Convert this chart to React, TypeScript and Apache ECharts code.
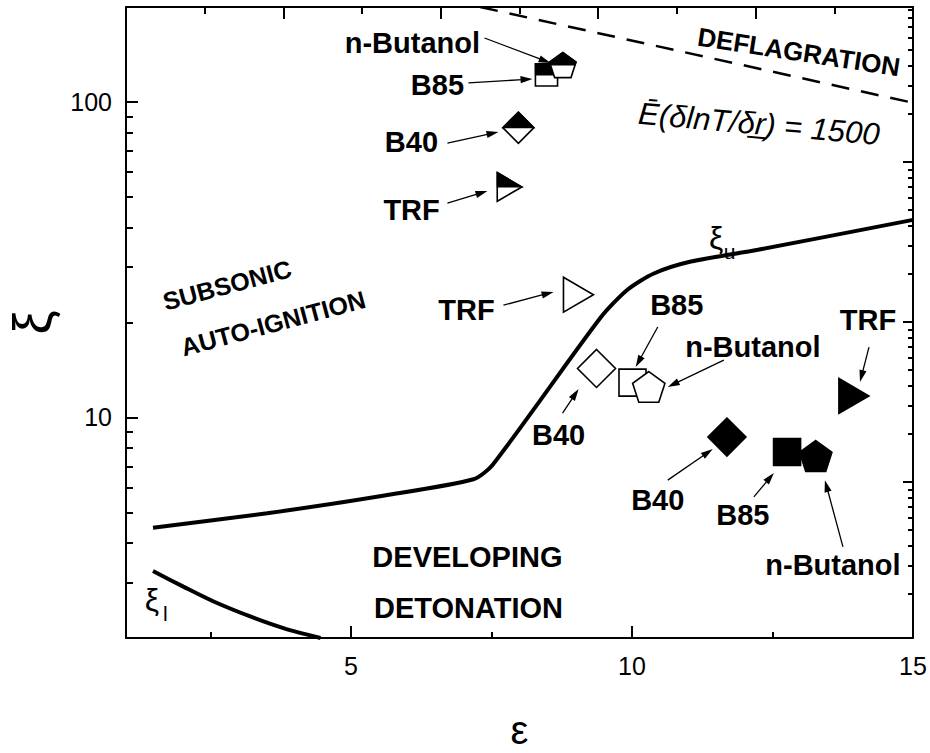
import React, { useEffect, useRef } from 'react';
import * as echarts from 'echarts';

// ---------------------------------------------------------------------------
// Data
// ---------------------------------------------------------------------------

// Fuels, in drawing order (square before pentagon so the pentagon sits on top)
const fuels = ['TRF', 'B40', 'B85', 'n-Butanol'];
const fuelShapes = ['triangle', 'diamond', 'square', 'pentagon'];

// Half-filled markers
const halfEps = [7.75, 7.98, 8.48, 8.77];
const halfXi = [53.8, 82.9, 121.8, 131];

// Open markers
const openEps = [8.96, 9.37, 10.01, 10.3];
const openXi = [24.5, 14.3, 12.9, 12.5];

// Filled markers
const filledEps = [13.86, 11.69, 12.76, 13.27];
const filledXi = [11.7, 8.67, 7.77, 7.55];

// Upper boundary xi_u
const xiUpperEps = [1.48, 3.51, 5.6, 7.18, 7.52, 9.44, 9.92, 10.39, 11.05, 12.24, 15.0];
const xiUpperVal = [4.47, 4.97, 5.66, 6.37, 7.07, 20.7, 25.4, 28.6, 31.2, 34.0, 42.3];

// Lower boundary xi_l
const xiLowerEps = [1.48, 2.02, 2.56, 3.21, 3.8, 4.46];
const xiLowerVal = [3.26, 2.91, 2.61, 2.34, 2.15, 2.0];

// Deflagration limit, E(dlnT/dr) = 1500
const deflagEps = [7.3, 15];
const deflagXi = [200, 99.4];

// Axis ticks
const epsMajorTicks = [5, 10, 15];
const epsMinorTicks = [2.5, 7.5, 12.5];
const xiMajorTicks = [10, 100];
const xiMinorTicks = [3, 4, 5, 6, 7, 8, 9, 20, 30, 40, 50, 60, 70, 80, 90];
const frameRightMajor = [10, 100, 1000];
const frameRightMinor = [
  2, 3, 4, 5, 6, 7, 8, 9,
  20, 30, 40, 50, 60, 70, 80, 90,
  200, 300, 400, 500, 600, 700, 800, 900,
  2000, 3000, 4000, 5000, 6000, 7000, 8000, 9000,
];

// ---------------------------------------------------------------------------
// Annotations (in data coordinates)
// ---------------------------------------------------------------------------

type Note = {
  text: string;
  at: [number, number];
  size: number;
  rotate?: number;
  bold?: boolean;
  italic?: boolean;
  sub?: string;
};

const notes: Note[] = [
  { text: 'n-Butanol', at: [6.094, 153.8], size: 29, bold: true },
  { text: 'B85', at: [6.54, 113.2], size: 29, bold: true },
  { text: 'B40', at: [6.077, 74.7], size: 29, bold: true },
  { text: 'TRF', at: [6.08, 45.5], size: 29, bold: true },
  { text: 'TRF', at: [7.056, 21.9], size: 29, bold: true },
  { text: 'B40', at: [8.695, 8.8], size: 29, bold: true },
  { text: 'B85', at: [10.797, 22.7], size: 29, bold: true },
  { text: 'n-Butanol', at: [12.151, 16.7], size: 29, bold: true },
  { text: 'B40', at: [10.459, 5.48], size: 29, bold: true },
  { text: 'B85', at: [11.973, 4.91], size: 29, bold: true },
  { text: 'n-Butanol', at: [13.576, 3.41], size: 29, bold: true },
  { text: 'TRF', at: [14.199, 20.4], size: 29, bold: true },
  { text: 'SUBSONIC', at: [2.799, 26.3], size: 25, bold: true, rotate: 15 },
  { text: 'AUTO-IGNITION', at: [3.618, 19.9], size: 25, bold: true, rotate: 15 },
  { text: 'DEVELOPING', at: [7.074, 3.61], size: 29, bold: true },
  { text: 'DETONATION', at: [7.092, 2.49], size: 29, bold: true },
  { text: 'DEFLAGRATION', at: [12.97, 144], size: 26, bold: true, rotate: -8.7 },
  { text: 'Ē(δlnT/δr\u0332) = 1500', at: [12.26, 85.2], size: 31, italic: true, rotate: -5 },
  { text: 'ξ', sub: 'u', at: [11.5, 37.0], size: 32 },
  { text: 'ξ', sub: 'l', at: [1.463, 2.64], size: 32 },
];

type Pointer = { from: [number, number]; to: [number, number] };

const pointers: Pointer[] = [
  { from: [7.377, 159.5], to: [8.553, 132.9] },
  { from: [7.092, 114.9], to: [8.232, 118.3] },
  { from: [6.718, 74.1], to: [7.626, 80.3] },
  { from: [6.718, 47.8], to: [7.43, 52.2] },
  { from: [7.715, 22.7], to: [8.606, 25.0] },
  { from: [8.766, 10.33], to: [9.051, 12.31] },
  { from: [10.459, 19.35], to: [10.067, 14.45] },
  { from: [11.634, 15.2], to: [10.637, 12.49] },
  { from: [10.637, 6.33], to: [11.438, 7.94] },
  { from: [12.169, 5.6], to: [12.525, 6.67] },
  { from: [13.754, 3.89], to: [13.433, 6.33] },
  { from: [14.217, 16.7], to: [14.057, 12.95] },
];

// ---------------------------------------------------------------------------
// Styling helpers
// ---------------------------------------------------------------------------

const SANS = "'Liberation Sans', Arial, Helvetica, sans-serif";
const INK = '#000';
const frameLine = { color: INK, width: 2 };

function outline(shape: string, s: number): number[][] {
  switch (shape) {
    case 'triangle': {
      const a = 10 * s, b = 20 * s, h = 17.5 * s;
      return [[-a, -h], [b, 0], [-a, h]];
    }
    case 'diamond': {
      const d = 19 * s;
      return [[0, -d], [d, 0], [0, d], [-d, 0]];
    }
    case 'square': {
      const q = 13.5 * s;
      return [[-q, -q], [q, -q], [q, q], [-q, q]];
    }
    default: {
      const r = 17 * s;
      const off = 0.0955 * r;
      const pts: number[][] = [];
      for (let k = 0; k < 5; k++) {
        const t = ((-90 + 72 * k) * Math.PI) / 180;
        pts.push([r * Math.cos(t), r * Math.sin(t) + off]);
      }
      return pts;
    }
  }
}

// Upper half (y <= 0) of a convex polygon centred on the origin
function upperHalf(points: number[][]): number[][] {
  const out: number[][] = [];
  for (let i = 0; i < points.length; i++) {
    const a = points[i];
    const b = points[(i + 1) % points.length];
    const ina = a[1] <= 0;
    const inb = b[1] <= 0;
    if (ina) out.push(a);
    if (ina !== inb) {
      const t = a[1] / (a[1] - b[1]);
      out.push([a[0] + t * (b[0] - a[0]), 0]);
    }
  }
  return out;
}

function buildOption() {
  const markerData = [
    ...halfEps.map((e, i) => [e, halfXi[i], i, 0]),
    ...openEps.map((e, i) => [e, openXi[i], i, 1]),
    ...filledEps.map((e, i) => [e, filledXi[i], i, 2]),
  ];

  const hiddenAxisParts = {
    axisLabel: { show: false },
    splitLine: { show: false },
    minorSplitLine: { show: false },
  };

  return {
    animation: false,
    backgroundColor: '#fff',
    grid: {
      left: 126,
      top: 7,
      width: 787,
      height: 631,
      containLabel: false,
      outerBoundsMode: 'none',
    },
    xAxis: [
      {
        type: 'value',
        position: 'bottom',
        min: 1,
        max: 15,
        name: 'ε',
        nameLocation: 'middle',
        nameGap: 72,
        nameTextStyle: { fontFamily: SANS, fontSize: 40, color: INK, lineHeight: 40 },
        axisLine: { show: true, onZero: false, lineStyle: frameLine },
        axisTick: { show: true, inside: true, length: 12, lineStyle: frameLine, customValues: epsMajorTicks },
        axisLabel: { show: true, customValues: epsMajorTicks, margin: 15, fontFamily: SANS, fontSize: 25, color: INK },
        splitLine: { show: false },
      },
      {
        type: 'value',
        position: 'bottom',
        min: 1,
        max: 15,
        axisLine: { show: false, onZero: false },
        axisTick: { show: true, inside: true, length: 6, lineStyle: frameLine, customValues: epsMinorTicks },
        ...hiddenAxisParts,
      },
      {
        type: 'value',
        position: 'top',
        min: 0,
        max: 5,
        interval: 1,
        axisLine: { show: true, onZero: false, lineStyle: frameLine },
        axisTick: { show: true, inside: true, length: 12, lineStyle: frameLine },
        minorTick: { show: true, splitNumber: 2, length: 7, lineStyle: frameLine },
        ...hiddenAxisParts,
      },
    ],
    yAxis: [
      {
        type: 'log',
        position: 'left',
        min: 2,
        max: 200,
        logBase: 10,
        name: 'ξ',
        nameLocation: 'middle',
        nameRotate: 90,
        nameGap: 64,
        nameTextStyle: { fontFamily: SANS, fontSize: 54, color: INK },
        axisLine: { show: true, onZero: false, lineStyle: frameLine },
        axisTick: { show: true, inside: true, length: 12, lineStyle: frameLine, customValues: xiMajorTicks },
        axisLabel: { show: true, customValues: xiMajorTicks, margin: 14, fontFamily: SANS, fontSize: 25, color: INK },
        splitLine: { show: false },
        minorSplitLine: { show: false },
      },
      {
        type: 'log',
        position: 'left',
        min: 2,
        max: 200,
        logBase: 10,
        axisLine: { show: false, onZero: false },
        axisTick: { show: true, inside: true, length: 7, lineStyle: frameLine, customValues: xiMinorTicks },
        ...hiddenAxisParts,
      },
      {
        type: 'log',
        position: 'right',
        min: 1.06,
        max: 9310,
        logBase: 10,
        axisLine: { show: true, onZero: false, lineStyle: frameLine },
        axisTick: { show: true, inside: true, length: 10, lineStyle: frameLine, customValues: frameRightMajor },
        ...hiddenAxisParts,
      },
      {
        type: 'log',
        position: 'right',
        min: 1.06,
        max: 9310,
        logBase: 10,
        axisLine: { show: false, onZero: false },
        axisTick: { show: true, inside: true, length: 5, lineStyle: frameLine, customValues: frameRightMinor },
        ...hiddenAxisParts,
      },
    ],
    series: [
      {
        type: 'line',
        name: 'ξu',
        xAxisIndex: 0,
        yAxisIndex: 0,
        data: xiUpperEps.map((e, i) => [e, xiUpperVal[i]]),
        showSymbol: false,
        symbol: 'none',
        smooth: 0.25,
        lineStyle: { color: INK, width: 4 },
        silent: true,
      },
      {
        type: 'line',
        name: 'ξl',
        xAxisIndex: 0,
        yAxisIndex: 0,
        data: xiLowerEps.map((e, i) => [e, xiLowerVal[i]]),
        showSymbol: false,
        symbol: 'none',
        smooth: 0.3,
        lineStyle: { color: INK, width: 4 },
        silent: true,
      },
      {
        type: 'line',
        name: 'deflagration',
        xAxisIndex: 0,
        yAxisIndex: 0,
        data: deflagEps.map((e, i) => [e, deflagXi[i]]),
        showSymbol: false,
        symbol: 'none',
        lineStyle: { color: INK, width: 2.5, type: [18, 12] },
        silent: true,
      },
      {
        type: 'custom',
        name: 'pointers',
        xAxisIndex: 0,
        yAxisIndex: 0,
        silent: true,
        data: pointers.map((p) => [p.from[0], p.from[1], p.to[0], p.to[1]]),
        encode: { x: [0, 2], y: [1, 3] },
        renderItem: (_params: any, api: any) => {
          const p1 = api.coord([api.value(0), api.value(1)]);
          const p2 = api.coord([api.value(2), api.value(3)]);
          const dx = p2[0] - p1[0];
          const dy = p2[1] - p1[1];
          const len = Math.hypot(dx, dy) || 1;
          const ux = dx / len;
          const uy = dy / len;
          const headLen = 12;
          const headHalf = 3.6;
          const bx = p2[0] - ux * headLen;
          const by = p2[1] - uy * headLen;
          return {
            type: 'group',
            children: [
              {
                type: 'line',
                shape: { x1: p1[0], y1: p1[1], x2: bx + ux * 2, y2: by + uy * 2 },
                style: { stroke: INK, lineWidth: 1.3 },
              },
              {
                type: 'polygon',
                shape: {
                  points: [
                    [p2[0], p2[1]],
                    [bx - uy * headHalf, by + ux * headHalf],
                    [bx + uy * headHalf, by - ux * headHalf],
                  ],
                },
                style: { fill: INK },
              },
            ],
          };
        },
      },
      {
        type: 'custom',
        name: 'fuels',
        xAxisIndex: 0,
        yAxisIndex: 0,
        silent: true,
        data: markerData,
        renderItem: (_params: any, api: any) => {
          const [cx, cy] = api.coord([api.value(0), api.value(1)]);
          const shape = fuelShapes[api.value(2)];
          const kind = api.value(3);
          const rel = outline(shape, kind === 0 ? 0.82 : 1);
          const abs = (pts: number[][]) => pts.map((p) => [cx + p[0], cy + p[1]]);
          const children: any[] = [
            {
              type: 'polygon',
              shape: { points: abs(rel) },
              style: { fill: kind === 2 ? INK : '#fff', stroke: INK, lineWidth: 1.6, lineJoin: 'miter' },
            },
          ];
          if (kind === 0) {
            children.push({
              type: 'polygon',
              shape: { points: abs(upperHalf(rel)) },
              style: { fill: INK, stroke: INK, lineWidth: 1.2 },
            });
          }
          return { type: 'group', name: fuels[api.value(2)], children };
        },
      },
      {
        type: 'custom',
        name: 'notes',
        xAxisIndex: 0,
        yAxisIndex: 0,
        silent: true,
        data: notes.map((n) => n.at),
        renderItem: (params: any, api: any) => {
          const n = notes[params.dataIndex];
          const [x, y] = api.coord([api.value(0), api.value(1)]);
          const base = {
            fontFamily: SANS,
            fontSize: n.size,
            fontWeight: n.bold ? 'bold' : 'normal',
            fontStyle: n.italic ? 'italic' : 'normal',
            fill: INK,
            align: 'center',
            verticalAlign: 'middle',
          };
          const children: any[] = [
            { type: 'text', x: 0, y: 0, style: { ...base, text: n.text } },
          ];
          if (n.sub) {
            children.push({
              type: 'text',
              x: n.size * 0.42,
              y: n.size * 0.42,
              style: { ...base, text: n.sub, fontSize: n.size * 0.66 },
            });
          }
          return {
            type: 'group',
            x,
            y,
            rotation: ((n.rotate || 0) * Math.PI) / 180,
            children,
          };
        },
      },
    ],
  };
}

export default function App() {
  const ref = useRef<HTMLDivElement>(null);
  useEffect(() => {
    document.body.style.margin = '0';
    if (!ref.current) return;
    const chart = echarts.init(ref.current, null, { renderer: 'svg' });
    chart.setOption(buildOption() as any);
    return () => chart.dispose();
  }, []);
  return <div ref={ref} style={{ width: 930, height: 753, background: '#fff' }} />;
}
